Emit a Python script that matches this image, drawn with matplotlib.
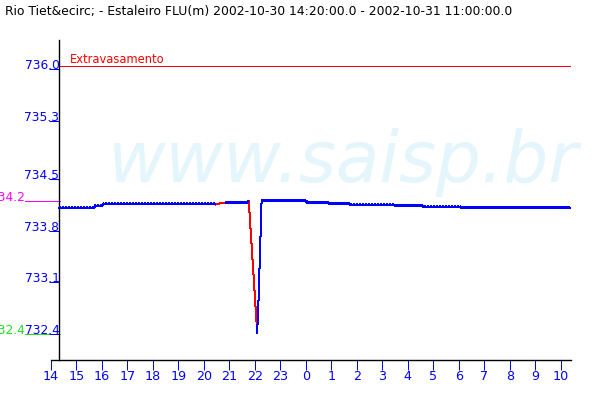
import numpy as np
import matplotlib
matplotlib.use("Agg")
import matplotlib.pyplot as plt
import matplotlib.transforms as mtransforms

# ---------------- data ----------------
title = "Rio Tiet&ecirc; - Estaleiro FLU(m) 2002-10-30 14:20:00.0 - 2002-10-31 11:00:00.0"
x_start, x_end = 14.333, 34.4            # hours since 2002-10-30 00:00
x_tick_hours = list(range(14, 35))
x_tick_labels = [str(h % 24) for h in x_tick_hours]
y_ticks = [736.0, 735.3, 734.5, 733.8, 733.1, 732.4]
y_tick_labels = ["736.0", "735.3", "734.5", "733.8", "733.1", "732.4"]
y_min, y_max = 732.046, 736.394

overflow_level = 736.04
overflow_label = "Extravasamento"
upper_ref = 734.2
lower_ref = 732.4

nan = np.nan
blue_t = [14.33, 15.70, 15.75, 16.00, 16.05, 20.45, nan, 20.85, 21.70, 21.74, nan,
          22.08, 22.12, 22.16, 22.20, 22.24, 22.26, 24.00, 24.05, 24.85, 24.90,
          25.70, 25.75, 27.45, 27.50, 28.55, 28.60, 30.05, 30.10, 34.38]
blue_v = [734.11, 734.11, 734.14, 734.14, 734.16, 734.16, nan, 734.18, 734.18, 734.20, nan,
          732.41, 732.63, 733.07, 733.52, 733.95, 734.20, 734.20, 734.18, 734.18, 734.17,
          734.17, 734.15, 734.15, 734.14, 734.14, 734.12, 734.12, 734.11, 734.11]
red_t = [20.45, 20.70, 20.85, nan, 21.76, 22.07]
red_v = [734.16, 734.18, 734.18, nan, 734.20, 732.52]

BLUE = "#0000ff"
RED = "#ff0000"
MAGENTA = "#ff00ff"
GREEN = "#22dd22"
LW = 0.72  # one pixel at 100 dpi

# ---------------- figure ----------------
plt.rcParams["font.family"] = ["DejaVu Sans"]
fig = plt.figure(figsize=(6, 4), dpi=100)
ax = fig.add_axes([51 / 600, 40 / 400, 520 / 600, 320 / 400])
ax.patch.set_visible(False)
ax.set_xlim(14.0, x_end)
ax.set_ylim(y_min, y_max)

# watermark
ax.text(108 / 600, 1 - 182 / 400, "www.saisp.br", transform=fig.transFigure,
        fontsize=51, style="italic", color="#e4f5fc", zorder=0, clip_on=False,
        va="baseline", ha="left")

# spines
for s in ("top", "right"):
    ax.spines[s].set_visible(False)
ax.spines["left"].set_position(("data", x_start))
ax.spines["left"].set_color("black")
ax.spines["bottom"].set_color("black")
ax.spines["left"].set_linewidth(1)
ax.spines["bottom"].set_linewidth(1)

# ticks
ax.set_xticks(x_tick_hours)
ax.set_xticklabels(x_tick_labels)
ax.set_yticks(y_ticks)
ax.set_yticklabels(y_tick_labels)
ax.tick_params(axis="x", direction="out", length=7.2, width=LW, color=BLUE,
               labelcolor=BLUE, labelsize=9.2, pad=0)
ax.tick_params(axis="y", direction="out", length=7.2, width=LW, color=BLUE,
               labelcolor=BLUE, labelsize=8.8, pad=-7.2)
for lbl in ax.get_yticklabels():
    lbl.set_va("baseline")

# overflow line
ax.hlines(overflow_level, x_start, x_end, color=RED, lw=LW, zorder=2,
          antialiased=False)
ax.text(14.745, overflow_level + 0.035, overflow_label, color=RED, fontsize=8.3,
        va="baseline", ha="left")

# reference levels at left
blend = mtransforms.blended_transform_factory(ax.transAxes, ax.transData)
x_l = (25 - 51) / 520
x_r = (60 - 51) / 520
ax.plot([x_l, x_r], [upper_ref, upper_ref], color=MAGENTA, lw=LW, transform=blend,
        clip_on=False, antialiased=False)
ax.text(x_l, upper_ref, "734.2", color=MAGENTA, fontsize=8.8, ha="right",
        va="baseline", transform=blend, clip_on=False)
ax.plot([x_l, x_r], [lower_ref, lower_ref], color=GREEN, lw=LW, transform=blend,
        clip_on=False, zorder=1, antialiased=False)
ax.text(x_l, lower_ref, "732.4", color=GREEN, fontsize=8.8, ha="right",
        va="baseline", transform=blend, clip_on=False)

# data
ax.plot(red_t, red_v, color=RED, lw=LW, zorder=3, antialiased=False)
ax.plot(blue_t, blue_v, color=BLUE, lw=LW, zorder=4, antialiased=False)
# dotted point marks on top of the flat parts of the series
bv = np.array(blue_v, dtype=float)
flat_v = np.where(bv < 734.0, np.nan, bv)
up = mtransforms.offset_copy(ax.transData, fig=fig, x=0, y=1, units="dots")
ax.plot(blue_t, flat_v, color=BLUE, lw=LW, ls=(0, (1.4, 1.4)), zorder=4,
        transform=up, antialiased=False)

fig.text(5 / 600, 1 - 15 / 400, title, fontsize=8.9, color="black",
         va="baseline", ha="left")

fig.savefig("out.png", dpi=100)
